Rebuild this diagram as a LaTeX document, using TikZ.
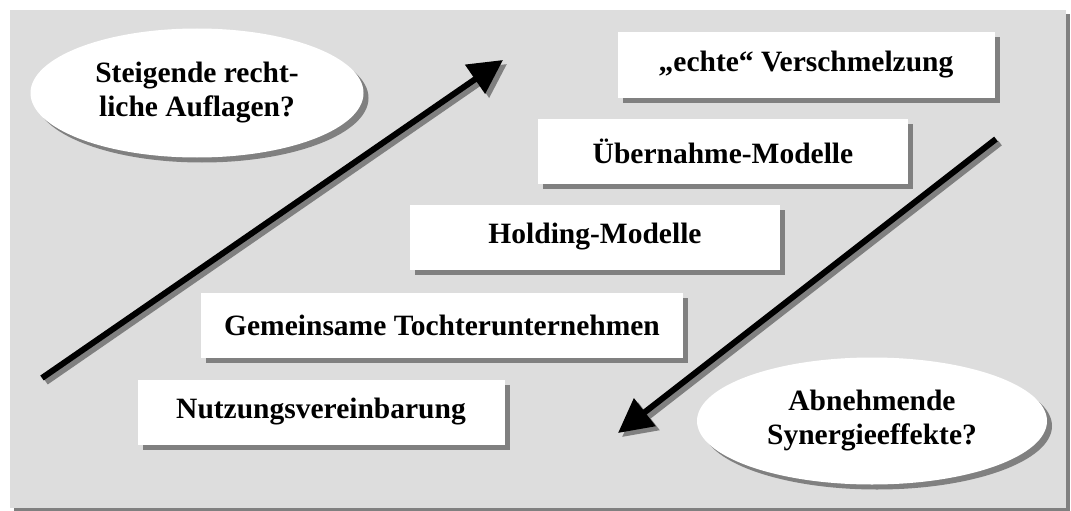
\documentclass[tikz,border=0pt]{standalone}
\usepackage{fontspec}
\setmainfont{Liberation Serif}
\usetikzlibrary{shapes.geometric,shadows,arrows.meta}
\definecolor{hgrau}{RGB}{221,221,221}
\definecolor{sgrau}{RGB}{128,128,128}
\tikzset{
  schatten/.style={drop shadow={shadow xshift=5pt,shadow yshift=-5pt,fill=sgrau,opacity=1}},
  stufe/.style={fill=white,inner sep=0pt,minimum height=65pt,schatten,
    font=\bfseries\fontsize{29.5}{34}\selectfont},
  frage/.style={ellipse,fill=white,inner sep=0pt,align=center,schatten,
    font=\bfseries\fontsize{29.5}{34}\selectfont},
  pfeil/.style={line width=6pt,-{Triangle[length=34pt,width=34pt]}},
}

\begin{document}
\begin{tikzpicture}[x=1pt,y=-1pt]
          \useasboundingbox (0,0) rectangle (1071,511);
          %\draw[very thin,lightgray] (0,0) grid[step=50] (1071,511);
          \fill[sgrau] (14,14) rectangle (1070,512);
          \fill[hgrau] (10,10) rectangle (1066,508);
          \node[frage,minimum width=333pt,minimum height=129pt] (recht) at (197,93)
            {Steigende recht-\\liche Auflagen?};
          \node[frage,minimum width=350pt,minimum height=127pt] (synergie) at (872,421)
            {Abnehmende\\Synergieeffekte?};
          \node[stufe,minimum width=377pt] (echt) at (806,65) {„echte“ Verschmelzung};
          \node[stufe,minimum width=370pt] (uebernahme) at (723,151) {Übernahme-Modelle};
          \node[stufe,minimum width=370pt] (holding) at (595,237) {Holding-Modelle};
          \node[stufe,minimum width=482pt] (tochter) at (442,325) {Gemeinsame Tochterunternehmen};
          \node[stufe,minimum width=367pt] (nutzung) at (321,412) {Nutzungsvereinbarung};
          \coordinate (aufA) at (42,378);
          \coordinate (aufB) at (503,60);
          \coordinate (abA) at (996,139);
          \coordinate (abB) at (618,433);
          \draw[pfeil,sgrau] ([shift={(4,4)}]aufA) -- ([shift={(4,4)}]aufB);
          \draw[pfeil] (aufA) -- (aufB);
          \draw[pfeil,sgrau] ([shift={(4,4)}]abA) -- ([shift={(4,4)}]abB);
          \draw[pfeil] (abA) -- (abB);
        \end{tikzpicture}
\end{document}
